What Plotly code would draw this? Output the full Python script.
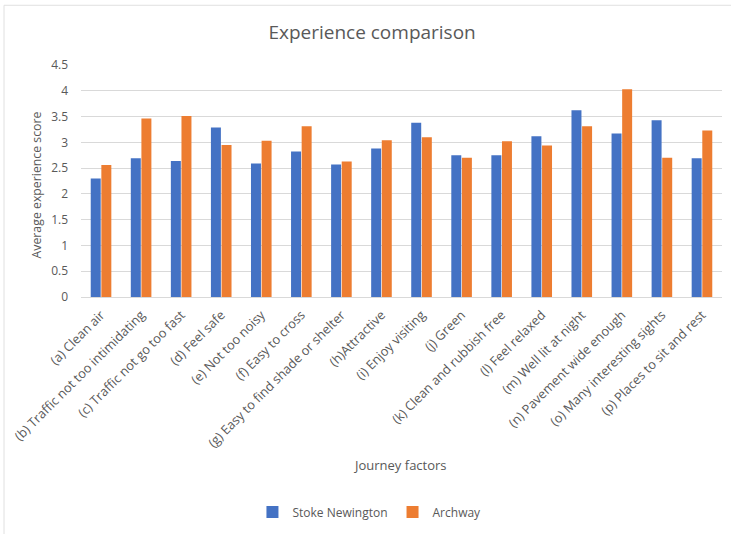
import plotly.graph_objects as go

factors = [
    "(a) Clean air",
    "(b) Traffic not too intimidating",
    "(c) Traffic not go too fast",
    "(d) Feel safe",
    "(e) Not too noisy",
    "(f) Easy to cross",
    "(g) Easy to find shade or shelter",
    "(h)Attractive",
    "(i) Enjoy visiting",
    "(j) Green",
    "(k) Clean and rubbish free",
    "(l) Feel relaxed",
    "(m) Well lit at night",
    "(n) Pavement wide enough",
    "(o) Many interesting sights",
    "(p) Places to sit and rest",
]
stoke_newington = [2.30, 2.69, 2.64, 3.29, 2.59, 2.82, 2.57, 2.88,
                   3.38, 2.75, 2.75, 3.12, 3.62, 3.17, 3.43, 2.69]
archway = [2.56, 3.46, 3.51, 2.95, 3.03, 3.31, 2.63, 3.04,
           3.10, 2.70, 3.02, 2.94, 3.31, 4.03, 2.70, 3.23]
y_ticks = [0, 0.5, 1, 1.5, 2, 2.5, 3, 3.5, 4, 4.5]
y_tick_text = ["0", "0.5", "1", "1.5", "2", "2.5", "3", "3.5", "4", "4.5"]

FONT = "Open Sans, sans-serif"
GREY = "#595959"

fig = go.Figure()
fig.add_trace(go.Bar(name="Stoke Newington", x=factors, y=stoke_newington,
                     marker=dict(color="#4472C4", line=dict(width=0))))
fig.add_trace(go.Bar(name="Archway", x=factors, y=archway,
                     marker=dict(color="#ED7D31", line=dict(width=0))))

fig.update_layout(
    width=731, height=534,
    margin=dict(l=81, r=9, t=65, b=236),
    paper_bgcolor="white", plot_bgcolor="white",
    font=dict(family=FONT, color=GREY, size=12),
    barmode="group", bargap=0.47, bargroupgap=0.06,
    title=dict(text="Experience comparison", x=0.509, xref="container",
               y=1 - 32 / 534, yanchor="middle", xanchor="center",
               font=dict(size=19, color=GREY, family=FONT)),
    showlegend=True,
    legend=dict(orientation="h", x=0.45, xanchor="center", y=-0.918,
                yanchor="middle", font=dict(size=12, color=GREY),
                itemwidth=30, traceorder="normal"),
    xaxis=dict(tickangle=-45, showgrid=False, showline=False,
               tickfont=dict(size=12.8, color=GREY), ticks="",
               ticklabelstandoff=7),
    yaxis=dict(range=[0, 4.5], tickvals=y_ticks, ticktext=y_tick_text,
               showgrid=True, gridcolor="#D9D9D9", gridwidth=1,
               zeroline=True, zerolinecolor="#D9D9D9", zerolinewidth=1,
               ticklabelstandoff=12, tickfont=dict(size=12, color=GREY)),
    shapes=[dict(type="rect", xref="paper", yref="paper",
                 x0=(4 - 81) / 641, x1=(740 - 81) / 641,
                 y0=(298 - 545) / 233, y1=(298 - 5) / 233,
                 line=dict(color="#E0E0E0", width=1), layer="below")],
    annotations=[
        dict(text="Average experience score", xref="paper", yref="paper",
             x=(36 - 81) / 641, y=(298 - 186) / 233, textangle=-90,
             showarrow=False, xanchor="center", yanchor="middle",
             font=dict(size=12.3, color=GREY)),
        dict(text="Journey factors", xref="paper", yref="paper",
             x=(400 - 81) / 641, y=(298 - 467) / 233, showarrow=False,
             xanchor="center", yanchor="middle",
             font=dict(size=13, color=GREY)),
    ],
)

fig.write_html("out.html")
